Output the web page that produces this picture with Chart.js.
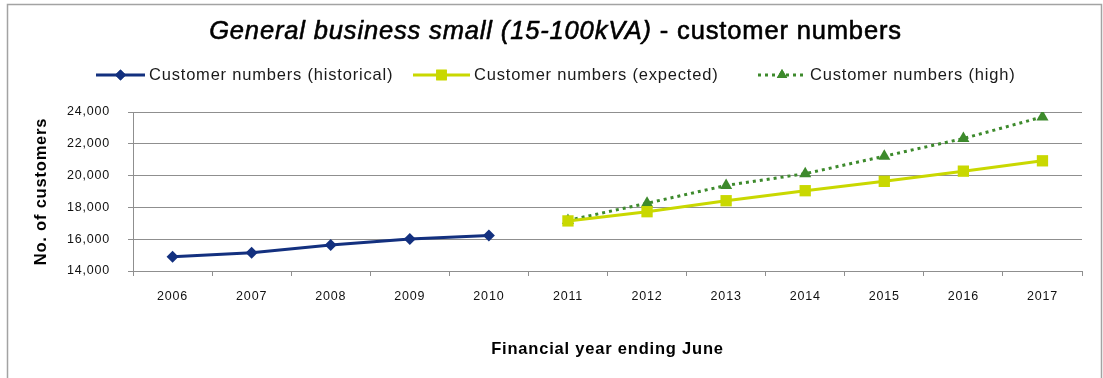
<!DOCTYPE html>
<html>
<head>
<meta charset="utf-8">
<script src="https://cdn.jsdelivr.net/npm/chart.js@4/dist/chart.umd.min.js"></script>
<style>
  html, body { margin: 0; padding: 0; background: #fff; }
  canvas { display: block; }
</style>
</head>
<body>
<canvas id="c" width="1103" height="378"></canvas>
<script>
// Financial years (ending June)
const years = ['2006', '2007', '2008', '2009', '2010', '2011', '2012', '2013', '2014', '2015', '2016', '2017'];

// Customer numbers by scenario
const historical = [14900, 15150, 15630, 16020, 16230, null, null, null, null, null, null, null];
const expected   = [null, null, null, null, null, 17150, 17730, 18420, 19050, 19640, 20280, 20930];
const high       = [null, null, null, null, null, 17180, 18260, 19380, 20120, 21220, 22330, 23690];

// Axis ticks
const yTicks = [14000, 16000, 18000, 20000, 22000, 24000];

const seriesNames = ['Customer numbers (historical)', 'Customer numbers (expected)', 'Customer numbers (high)'];
const titleItalic = 'General business small (15-100kVA)';
const titleRest = ' - customer numbers';

const NAVY = '#13307f';
const LIME = '#c9d800';
const GREEN = '#3d8a2c';
const GRID = '#8f8f8f';
const FONT = '"Liberation Sans", Arial, sans-serif';

// Frame, title and legend drawn around the plot
const decorations = {
  id: 'decorations',
  beforeDraw(chart) {
    const ctx = chart.ctx;
    ctx.letterSpacing = '0.8px';
    ctx.save();
    ctx.strokeStyle = '#a3a3a3';
    ctx.lineWidth = 1.5;
    ctx.strokeRect(7.5, 4.5, 1094, 400);
    ctx.restore();
  },
  afterDraw(chart) {
    const ctx = chart.ctx;
    ctx.save();
    // title: italic lead, upright tail, slightly heavy strokes
    ctx.letterSpacing = '0.85px';
    ctx.fillStyle = '#000';
    ctx.strokeStyle = '#000';
    ctx.lineWidth = 0.6;
    ctx.lineJoin = 'round';
    ctx.textBaseline = 'middle';
    const fItal = 'italic 25.5px ' + FONT;
    const fReg = '25.5px ' + FONT;
    ctx.font = fItal;
    const w1 = ctx.measureText(titleItalic).width;
    ctx.font = fReg;
    const w2 = ctx.measureText(titleRest).width;
    const x = chart.width / 2 - (w1 + w2) / 2 + 4;
    const ty = 32;
    ctx.textAlign = 'left';
    ctx.font = fItal;
    ctx.fillText(titleItalic, x, ty);
    ctx.strokeText(titleItalic, x, ty);
    ctx.font = fReg;
    ctx.fillText(titleRest, x + w1, ty);
    ctx.strokeText(titleRest, x + w1, ty);

    // legend
    ctx.letterSpacing = '0.8px';
    const ly = 75;
    const items = [
      { x0: 96,  len: 49, color: NAVY,  style: 'rectRot',  r: 5.5, dash: [],     lw: 3 },
      { x0: 413, len: 57, color: LIME,  style: 'rect',     r: 7.5, dash: [],     lw: 3 },
      { x0: 758, len: 48, color: GREEN, style: 'triangle', r: 6,   dash: [3, 4], lw: 3 }
    ];
    items.forEach((it, i) => {
      ctx.save();
      ctx.strokeStyle = it.color;
      ctx.lineWidth = it.lw;
      ctx.setLineDash(it.dash);
      ctx.beginPath();
      ctx.moveTo(it.x0, ly);
      ctx.lineTo(it.x0 + it.len, ly);
      ctx.stroke();
      ctx.restore();
      ctx.fillStyle = it.color;
      ctx.beginPath();
      Chart.helpers.drawPoint(ctx, { pointStyle: it.style, radius: it.r, borderWidth: 0, rotation: 0 }, it.x0 + it.len / 2, ly);
      ctx.fill();
      ctx.fillStyle = '#1a1a1a';
      ctx.font = '16.5px ' + FONT;
      ctx.textBaseline = 'middle';
      ctx.fillText(seriesNames[i], it.x0 + it.len + 4, ly);
    });
    ctx.restore();
  }
};

new Chart(document.getElementById('c'), {
  type: 'line',
  data: {
    labels: years,
    datasets: [
      {
        label: seriesNames[0], data: historical,
        borderColor: NAVY, backgroundColor: NAVY, borderWidth: 3,
        pointStyle: 'rectRot', pointRadius: 6, pointBorderWidth: 0
      },
      {
        label: seriesNames[1], data: expected,
        borderColor: LIME, backgroundColor: LIME, borderWidth: 3,
        pointStyle: 'rect', pointRadius: 8, pointBorderWidth: 0
      },
      {
        label: seriesNames[2], data: high,
        borderColor: GREEN, backgroundColor: GREEN, borderWidth: 3, borderDash: [3, 4],
        pointStyle: 'triangle', pointRadius: 7, pointBorderWidth: 0
      }
    ]
  },
  options: {
    responsive: false,
    animation: false,
    devicePixelRatio: 1,
    layout: { padding: { top: 112, right: 21, bottom: 0, left: 0 } },
    plugins: {
      legend: { display: false },
      title: { display: false },
      tooltip: { enabled: false }
    },
    scales: {
      x: {
        offset: true,
        afterFit(scale) { scale.height = 107; },
        grid: { display: true, drawOnChartArea: false, drawTicks: true, tickLength: 5, color: GRID, offset: true },
        border: { display: true, color: GRID, width: 1 },
        ticks: { color: '#111', font: { family: FONT, size: 12.5 }, padding: 13, maxRotation: 0 },
        title: {
          display: true, text: 'Financial year ending June', color: '#000',
          font: { family: FONT, size: 16.5, weight: 'bold' }, padding: { top: 0, bottom: 19 }
        }
      },
      y: {
        min: 14000, max: 24000,
        afterFit(scale) { scale.width = 133; },
        afterBuildTicks(scale) { scale.ticks = yTicks.map(v => ({ value: v })); },
        grid: { color: GRID, tickLength: 5, drawTicks: true },
        border: { display: true, color: GRID, width: 1 },
        ticks: {
          color: '#111', font: { family: FONT, size: 12.5 }, padding: 18,
          callback: v => v.toLocaleString('en-US')
        },
        title: {
          display: true, text: 'No. of customers', color: '#000',
          font: { family: FONT, size: 16.5, weight: 'bold' }, padding: { top: 32, bottom: 0 }
        }
      }
    }
  },
  plugins: [decorations]
});
</script>
</body>
</html>
